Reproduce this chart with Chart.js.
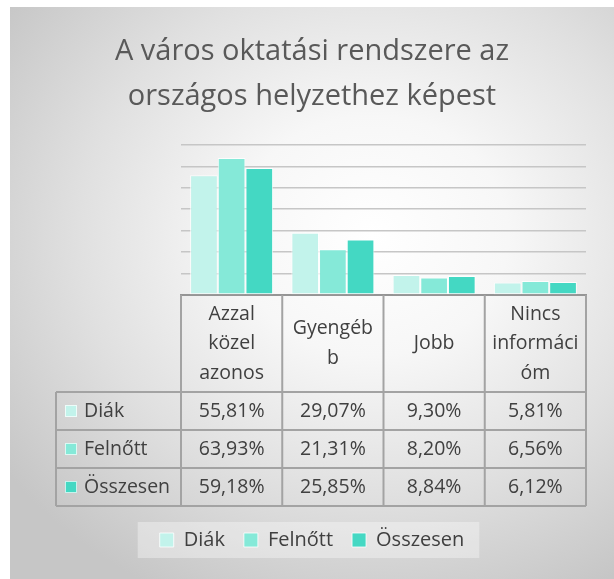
<!DOCTYPE html>
<html>
<head>
<meta charset="utf-8">
<script src="https://cdn.jsdelivr.net/npm/chart.js@4.4.0/dist/chart.umd.min.js"></script>
<style>
  html, body { margin: 0; padding: 0; background: #fff; }
  #wrap {
    position: absolute; left: 10px; top: 7px; width: 604px; height: 572px;
    background: radial-gradient(ellipse 75% 70% at 60% 40%, #ffffff 0%, #f7f7f7 30%, #e0e0e0 65%, #c6c6c6 100%);
  }
</style>
</head>
<body>
<div id="wrap"><canvas id="chart" width="604" height="572"></canvas></div>
<script>
// category labels as they wrap in the table header
const categories = [['Azzal', 'közel', 'azonos'], ['Gyengéb', 'b'], ['Jobb'], ['Nincs', 'informáci', 'óm']];
const seriesNames = ['Diák', 'Felnőtt', 'Összesen'];
const diak = [55.81, 29.07, 9.30, 5.81];
const felnott = [63.93, 21.31, 8.20, 6.56];
const osszesen = [59.18, 25.85, 8.84, 6.12];
const colors = ['#c2f3eb', '#85e9d8', '#44d8c3'];
const yTicks = [0, 10, 20, 30, 40, 50, 60, 70];

const values = [diak, felnott, osszesen];
const textColor = '#404040';
const lineColor = '#a3a3a3';
const fmt = v => v.toFixed(2).replace('.', ',') + '%';

// draws the data table under the plot, lined up with the category axis
const dataTable = {
    id: 'dataTable',
    beforeDraw(chart) {
        const ctx = chart.ctx;
        const hb = chart.legend.legendHitBoxes;
        if (!hb || !hb.length) return;
        const last = hb[hb.length - 1];
        const l = hb[0].left - 22;
        const r = last.left + last.width + 15;
        const cy = hb[0].top + hb[0].height / 2;
        ctx.save();
        ctx.fillStyle = 'rgba(255,255,255,0.35)';
        ctx.fillRect(l, cy - 18, r - l, 36);
        ctx.restore();
    },
    afterDraw(chart) {
        const {ctx, chartArea} = chart;
        const xs = chart.scales.x;
        const colW = xs.width / categories.length;
        const top = chartArea.bottom;
        const headerH = 97, rowH = 38;
        const tableLeft = 46;
        const left = chartArea.left, right = chartArea.right;
        const rowsTop = top + headerH;
        const bottom = rowsTop + rowH * seriesNames.length;

        ctx.save();
        ctx.strokeStyle = lineColor;
        ctx.lineWidth = 2;
        ctx.beginPath();
        // vertical lines of the category columns
        for (let i = 0; i <= categories.length; i++) {
            const x = left + i * colW;
            ctx.moveTo(x, top);
            ctx.lineTo(x, bottom);
        }
        // left edge of the series-name column
        ctx.moveTo(tableLeft, rowsTop);
        ctx.lineTo(tableLeft, bottom);
        // horizontal lines
        for (let r = 0; r <= seriesNames.length; r++) {
            const y = rowsTop + r * rowH;
            ctx.moveTo(tableLeft, y);
            ctx.lineTo(right, y);
        }
        ctx.stroke();

        ctx.fillStyle = textColor;
        ctx.font = '19.5px "Open Sans"';
        ctx.textBaseline = 'middle';
        ctx.textAlign = 'center';

        // header: category names
        const lh = 29.5;
        categories.forEach((lines, i) => {
            const cx = xs.getPixelForValue(i);
            const cy = top + headerH / 2 - (lines.length - 1) * lh / 2;
            lines.forEach((t, k) => ctx.fillText(t, cx, cy + k * lh));
        });

        // rows
        seriesNames.forEach((name, r) => {
            const cy = rowsTop + r * rowH + rowH / 2;
            ctx.fillStyle = colors[r];
            ctx.fillRect(tableLeft + 9, cy - 6, 12, 12);
            ctx.strokeStyle = 'rgba(255,255,255,0.7)';
            ctx.lineWidth = 1;
            ctx.strokeRect(tableLeft + 9.5, cy - 5.5, 11, 11);
            ctx.fillStyle = textColor;
            ctx.textAlign = 'left';
            ctx.fillText(name, tableLeft + 28, cy);
            ctx.textAlign = 'center';
            values[r].forEach((v, i) => {
                ctx.fillText(fmt(v), xs.getPixelForValue(i), cy);
            });
        });
        ctx.restore();
    }
};

const ctx = document.getElementById('chart').getContext('2d');

new Chart(ctx, {
    type: 'bar',
    data: {
        labels: categories,
        datasets: seriesNames.map((name, i) => ({
            label: name,
            data: values[i],
            backgroundColor: colors[i],
            borderColor: 'rgba(255,255,255,0.8)',
            borderWidth: 1,
            borderSkipped: false,
            barPercentage: 1,
            categoryPercentage: 0.82
        }))
    },
    options: {
        responsive: false,
        animation: false,
        layout: {padding: {top: 0, left: 0, right: 0, bottom: 19}},
        scales: {
            x: {
                ticks: {display: false},
                grid: {display: false, drawTicks: false},
                border: {display: true, color: '#959595', width: 2},
                afterFit: s => { s.height = 216; }
            },
            y: {
                min: 0,
                max: 70,
                afterBuildTicks: s => { s.ticks = yTicks.map(v => ({value: v})); },
                ticks: {display: false},
                grid: {color: '#c6c6c6', lineWidth: 1.5, drawTicks: false},
                border: {display: false},
                afterFit: s => { s.width = 171; }
            },
            y2: {
                position: 'right',
                display: true,
                ticks: {display: false},
                grid: {display: false, drawTicks: false},
                border: {display: false},
                afterFit: s => { s.width = 28; }
            }
        },
        plugins: {
            title: {
                display: true,
                text: ['A város oktatási rendszere az', 'országos helyzethez képest'],
                color: '#595959',
                font: {family: '"Open Sans"', size: 29, weight: 'normal', lineHeight: 1.55},
                padding: {top: 22, bottom: 26}
            },
            legend: {
                position: 'bottom',
                labels: {
                    color: textColor,
                    font: {family: '"Open Sans"', size: 20},
                    boxWidth: 14,
                    boxHeight: 14,
                    padding: 19
                }
            },
            tooltip: {enabled: false}
        }
    },
    plugins: [dataTable]
});
</script>
</body>
</html>
